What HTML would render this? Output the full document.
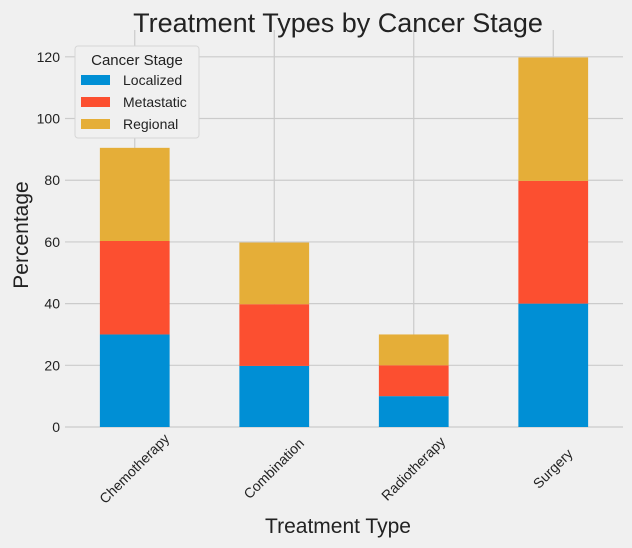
<!DOCTYPE html>
<html><head><meta charset="utf-8"><style>
body{margin:0;background:#f0f0f0;font-family:"Liberation Sans","DejaVu Sans",sans-serif}
</style></head><body>
<svg id="chart" width="632" height="548" xmlns="http://www.w3.org/2000/svg" style="display:block">
<rect width="632" height="548" fill="#f0f0f0"/>
<g id="grid"></g><g id="bars"></g><g id="ticks"></g>
<text x="338" y="32" font-size="27" text-anchor="middle" fill="#222">Treatment Types by Cancer Stage</text>
<text x="338" y="533" font-size="21" text-anchor="middle" fill="#222">Treatment Type</text>
<text transform="translate(28,235) rotate(-90)" font-size="21" text-anchor="middle" fill="#222">Percentage</text>
<g>
<rect x="75" y="46" width="124" height="92" rx="3" fill="#f0f0f0" stroke="#d6d6d6"/>
<text x="137" y="65" font-size="15" text-anchor="middle" fill="#222">Cancer Stage</text>
<g id="legend"></g>
</g>
</svg>
<script>
const categories=["Chemotherapy","Combination","Radiotherapy","Surgery"];
const localized=[30,19.8,10,40];
const metastatic=[30.3,20,10,39.8];
const regional=[30.2,20,10,40];
const seriesNames=["Localized","Metastatic","Regional"];
const yTicks=[0,20,40,60,80,100,120];
const colors=["#008fd5","#fc4f30","#e5ae38"];
const L=65,R=623,T=30,B=427,YMAX=128.7;
const y=v=>B-v/YMAX*(B-T);
const step=(R-L)/categories.length;
const x=i=>L+step*(i+0.5);
const NS="http://www.w3.org/2000/svg";
function mk(tag,attrs,parent){const e=document.createElementNS(NS,tag);for(const k in attrs)e.setAttribute(k,attrs[k]);document.getElementById(parent).appendChild(e);return e;}
yTicks.forEach(t=>{
 const g=mk("line",{x1:L,x2:R,y1:y(t),y2:y(t),stroke:"#cbcbcb","stroke-width":1.2},"grid");
 
 
 const tx=mk("text",{x:L-5,y:y(t)+5,"font-size":14,"text-anchor":"end",fill:"#222"},"ticks");
 tx.textContent=t;
 
 
});
categories.forEach((c,i)=>{
 const g=mk("line",{x1:x(i),x2:x(i),y1:T,y2:B,stroke:"#cbcbcb","stroke-width":1.2},"grid");
 
 
 const tx=mk("text",{transform:`translate(${x(i)+3},${B+45}) rotate(-45)`,"font-size":14,"text-anchor":"middle",fill:"#222"},"ticks");
 tx.textContent=c;
 
 
});
const series=[localized,metastatic,regional];
const bw=step*0.5;
categories.forEach((c,i)=>{
 let base=0;
 series.forEach((s,k)=>{
  const r=mk("rect",{x:x(i)-bw/2,y:y(base+s[i]),width:bw,height:y(base)-y(base+s[i]),fill:colors[k]},"bars");
  
  
  base+=s[i];
 });
});
seriesNames.forEach((n,k)=>{
 const yy=80+k*22;
 const r=mk("rect",{x:81,y:yy-5,width:29,height:10,fill:colors[k]},"legend");
 
 
 const t=mk("text",{x:123,y:yy+5,"font-size":14,fill:"#222"},"legend");
 t.textContent=n;
 
 
});
</script>
</body></html>
